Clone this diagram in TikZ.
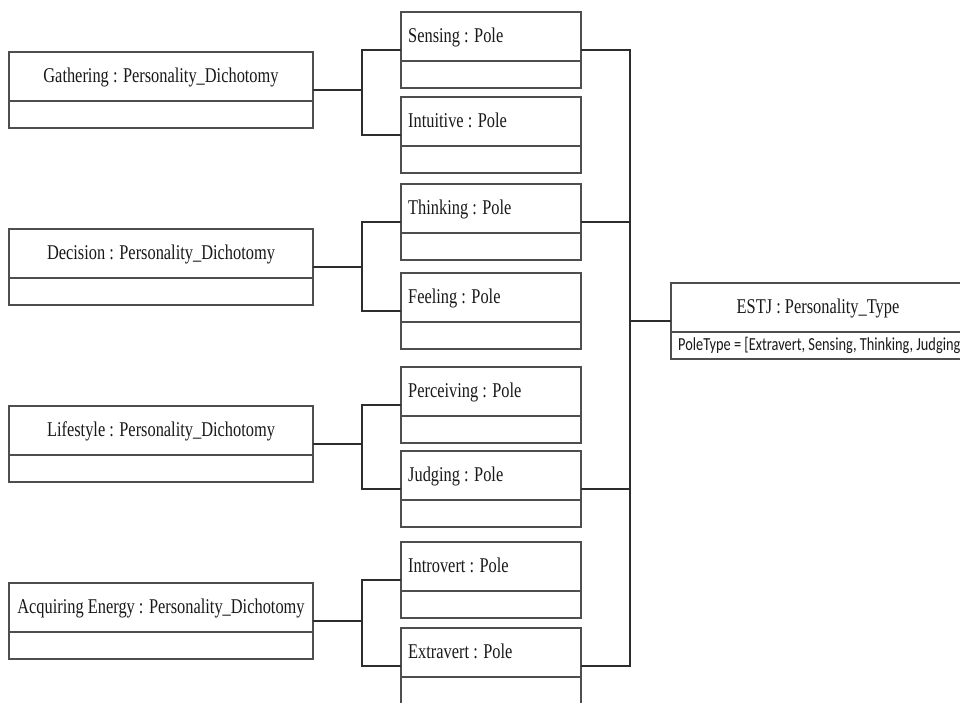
\documentclass[tikz,border=0pt]{standalone}
\usepackage{fontspec}
\setmainfont{Liberation Serif}[FakeStretch=0.78]
\newfontfamily\attrfont{Carlito}[FakeStretch=0.78]
\definecolor{boxgray}{RGB}{78,78,78}
\definecolor{linkgray}{RGB}{45,45,45}
\definecolor{inkcol}{RGB}{25,25,25}
\tikzset{
  objbox/.style={draw=boxgray, line width=1.5pt, rectangle, inner sep=0pt, outer sep=0pt,
    anchor=north west, minimum height=76pt,
    path picture={\draw[boxgray, line width=1.5pt]
      ([yshift=-49pt]path picture bounding box.north west) --
      ([yshift=-49pt]path picture bounding box.north east);}},
  dichotomy/.style={objbox, minimum width=304pt},
  polebox/.style={objbox, minimum width=180pt},
  typebox/.style={objbox, minimum width=294pt},
  ttl/.style={inner sep=0pt, text=inkcol, font=\fontsize{21}{25}\selectfont},
  attr/.style={inner sep=0pt, text=inkcol, font=\attrfont\fontsize{18.4}{22}\selectfont},
  link/.style={draw=linkgray, line width=1.4pt}
}
\begin{document}
\begin{tikzpicture}[x=1pt, y=-1pt]
\useasboundingbox (0,0) rectangle (960,702);
\clip (0,0) rectangle (960,702);
\fill[white] (0,0) rectangle (960,702);

% dichotomy objects
\node[dichotomy] (gath) at (9,52) {};
\node[dichotomy] (deci) at (9,229) {};
\node[dichotomy] (life) at (9,406) {};
\node[dichotomy] (acqu) at (9,583) {};
\node[ttl, anchor=base] (gath-t) at (161,82.5) {Gathering : Personality\_Dichotomy};
\node[ttl, anchor=base] (deci-t) at (161,259.5) {Decision : Personality\_Dichotomy};
\node[ttl, anchor=base] (life-t) at (161,436.5) {Lifestyle : Personality\_Dichotomy};
\node[ttl, anchor=base] (acqu-t) at (161,613.5) {Acquiring Energy : Personality\_Dichotomy};

% pole objects
\node[polebox] (sens) at (401,12) {};
\node[polebox] (intu) at (401,97) {};
\node[polebox] (thin) at (401,184) {};
\node[polebox] (feel) at (401,273) {};
\node[polebox] (perc) at (401,367) {};
\node[polebox] (judg) at (401,451) {};
\node[polebox] (intr) at (401,542) {};
\node[polebox] (extr) at (401,628) {};
\node[ttl, anchor=base west] (sens-t) at (408,42.5) {Sensing : Pole};
\node[ttl, anchor=base west] (intu-t) at (408,127.5) {Intuitive : Pole};
\node[ttl, anchor=base west] (thin-t) at (408,214.5) {Thinking : Pole};
\node[ttl, anchor=base west] (feel-t) at (408,303.5) {Feeling : Pole};
\node[ttl, anchor=base west] (perc-t) at (408,397.5) {Perceiving : Pole};
\node[ttl, anchor=base west] (judg-t) at (408,481.5) {Judging : Pole};
\node[ttl, anchor=base west] (intr-t) at (408,572.5) {Introvert : Pole};
\node[ttl, anchor=base west] (extr-t) at (408,658.5) {Extravert : Pole};

% personality type object
\node[typebox] (estj) at (671,283) {};
\node[ttl, anchor=base] (estj-t) at (818,313.5) {ESTJ : Personality\_Type};
\node[attr, anchor=base west] (estj-a) at (678,350) {PoleType = [Extravert, Sensing, Thinking, Judging]};

% junction points
\coordinate (gj) at (362,90);
\coordinate (dj) at (362,267);
\coordinate (lj) at (362,444);
\coordinate (aj) at (362,621);
\coordinate (hub) at (630,321);

% dichotomy to pole brackets
\draw[link] (gath.east) -- (gj);
\draw[link] (sens.west) -| (gj) |- (intu.west);
\draw[link] (deci.east) -- (dj);
\draw[link] (thin.west) -| (dj) |- (feel.west);
\draw[link] (life.east) -- (lj);
\draw[link] (perc.west) -| (lj) |- (judg.west);
\draw[link] (acqu.east) -- (aj);
\draw[link] (intr.west) -| (aj) |- (extr.west);

% selected poles to the type
\draw[link] (sens.east) -| (hub) |- (extr.east);
\draw[link] (thin.east) -- (thin.east -| hub);
\draw[link] (judg.east) -- (judg.east -| hub);
\draw[link] (hub) -- (estj.west);
\end{tikzpicture}
\end{document}
